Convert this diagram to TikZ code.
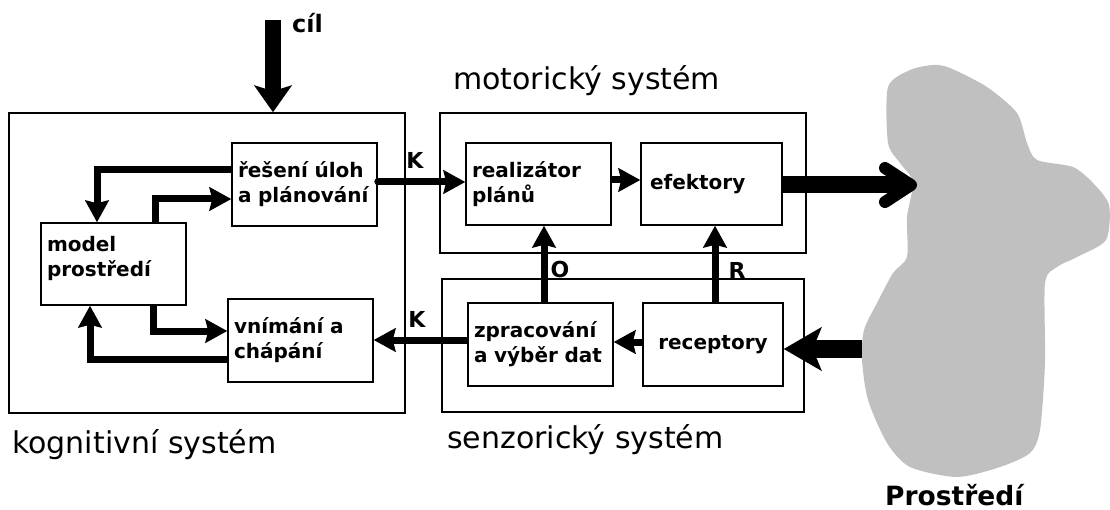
\documentclass[tikz,border=0pt]{standalone}
\usepackage{fontspec}
\setmainfont{DejaVu Sans}
\usetikzlibrary{arrows.meta}

\definecolor{envgray}{RGB}{192,192,192}

\begin{document}
\begin{tikzpicture}[x=1pt,y=-1pt,
  sysbox/.style={draw, line width=1.6pt, inner sep=0pt},
  blk/.style={draw, line width=1.6pt, inner xsep=6pt, inner ysep=0pt,
    font=\bfseries\fontsize{20}{25}\selectfont, align=left},
  syslabel/.style={font=\fontsize{30}{36}\selectfont, inner sep=0pt, anchor=base west},
  sig/.style={font=\bfseries\fontsize{22}{24}\selectfont, inner sep=0pt},
  arr/.style={line width=7pt, -{Stealth[length=22pt, width=24pt, inset=3pt, line width=2.5pt]}},
  bigdown/.style={line width=16pt, -{Stealth[length=27pt, width=38pt, inset=6pt, line width=2pt]}},
  bigout/.style={line width=17pt, -{Straight Barb[length=26pt, width=34pt, line width=12pt, line cap=round, line join=round]}},
  bigin/.style={line width=18pt, -{Stealth[length=38pt, width=44pt, inset=9pt, line width=2pt]}},
]
\useasboundingbox (0,0) rectangle (1110,510);

% environment
\fill[envgray] plot[smooth cycle, tension=0.45] coordinates {
  (933,65) (950,68) (987,87) (1017,113) (1027,143) (1037,160) (1073,167)
  (1093,183) (1109,205) (1106,240) (1077,257) (1057,267) (1045,283)
  (1045,363) (1040,430) (1030,453) (1000,467) (957,477) (910,467)
  (887,443) (868,400) (862,360) (864,330) (877,303) (893,273) (907,257)
  (907,217) (913,182) (900,163) (888,143) (888,87) (910,70)};
\node[font=\bfseries\fontsize{26.5}{30}\selectfont, inner sep=0pt, anchor=base west]
  (envlabel) at (885,505) {Prostředí};

% subsystems
\node[sysbox, minimum width=396pt, minimum height=300pt] (cog) at (207,263) {};
\node[sysbox, minimum width=366pt, minimum height=140pt] (motor) at (623,183) {};
\node[sysbox, minimum width=362pt, minimum height=133pt] (senz) at (623,345.5) {};

\node[syslabel] (coglabel) at (12,453) {kognitivní systém};
\node[syslabel] (motorlabel) at (453,90) {motorický systém};
\node[syslabel] (senzlabel) at (447,448) {senzorický systém};

% blocks
\node[blk, text width=133pt, minimum height=83pt] (resen) at (304.5,184.5) {řešení úloh\\a plánování};
\node[blk, text width=133pt, minimum height=82pt, text depth=40pt] (model) at (113.5,264) {model\\prostředí};
\node[blk, text width=133pt, minimum height=83pt] (vnim) at (300.5,340.5) {vnímání a\\chápání};
\node[blk, text width=133pt, minimum height=82pt] (realiz) at (538.5,184) {realizátor\\plánů};
\node[blk, text width=123pt, minimum height=82pt, inner xsep=9pt] (efekt) at (711.5,184) {efektory};
\node[blk, text width=133pt, minimum height=83pt] (zprac) at (540.5,344.5) {zpracování\\a výběr dat};
\node[blk, text width=128pt, minimum height=83pt, align=center] (recep) at (713,344.5) {receptory};

% goal input
\coordinate (cilstart) at (273,20);
\node[sig, font=\bfseries\fontsize{24}{26}\selectfont, anchor=base west] (cil) at (292,33) {cíl};
\draw[bigdown] (cilstart) -- (cilstart |- cog.north);

% cognitive loop
\draw[arr] ([yshift=14.5pt]resen.west) -| ([xshift=-16.5pt]model.north);
\draw[arr] ([xshift=41.5pt]model.north) |- ([yshift=-14.5pt]resen.west);
\draw[arr] ([xshift=40pt]model.south) |- ([yshift=9.5pt]vnim.west);
\draw[arr] ([yshift=-18.5pt]vnim.west) -| ([xshift=-23.5pt]model.south);

% links between subsystems
\draw[arr, line cap=round] ([yshift=2.5pt]resen.east) -- ([yshift=2pt]realiz.west);
\node[sig] (k1) at (415,160) {K};
\draw[arr] ([yshift=4pt]realiz.east) -- ([yshift=4pt]efekt.west);
\draw[arr] ([yshift=4.5pt]zprac.west) -- ([yshift=0.5pt]vnim.east);
\node[sig] (k2) at (417,319) {K};
\draw[arr] ([yshift=2.5pt]recep.west) -- ([yshift=2.5pt]zprac.east);
\draw[arr] ([xshift=3.5pt]zprac.north) -- ([xshift=3.5pt]zprac.north |- realiz.south);
\node[sig] (o) at (560,269) {O};
\draw[arr] ([xshift=2pt]recep.north) -- ([xshift=2pt]recep.north |- efekt.south);
\node[sig] (r) at (737,270) {R};

% exchange with the environment
\coordinate (envin) at (917,185);
\coordinate (envout) at (862,349);
\draw[bigout] ([yshift=-1pt]efekt.east) -- (envin);
\draw[bigin] (envout) -- ([yshift=-4.5pt]recep.east);
\end{tikzpicture}
\end{document}
